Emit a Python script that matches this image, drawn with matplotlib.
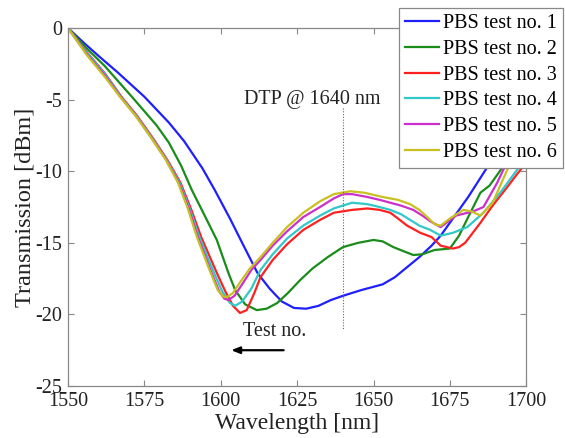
import matplotlib
matplotlib.use("Agg")
import matplotlib.pyplot as plt

# ---- data ----
wl1 = [1550, 1555, 1560, 1566, 1575, 1583, 1588, 1594, 1598, 1603, 1607, 1612, 1616, 1620, 1624, 1628,
       1632, 1636, 1640, 1646, 1653, 1657, 1661, 1665, 1669, 1672, 1676, 1681, 1687, 1693, 1700]
t1 = [0, -1.0, -1.95, -3.05, -4.8, -6.6, -7.9, -9.8, -11.3, -13.3, -15.0, -17.1, -18.2, -19.1, -19.55, -19.6,
      -19.4, -19.0, -18.7, -18.3, -17.9, -17.4, -16.7, -16.0, -15.2, -14.5, -13.3, -11.8, -9.8, -7.6, -5.0]

wl2 = [1550, 1556, 1562, 1570.9, 1579, 1583, 1587, 1590.5, 1594.5, 1598.7, 1602.5, 1604.7, 1608, 1611.8,
       1615, 1618.5, 1622, 1626, 1630, 1635, 1640, 1645, 1650, 1653, 1656.5, 1660, 1663, 1666, 1670, 1675,
       1678, 1681, 1685, 1688, 1692, 1696, 1700]
t2 = [0, -1.4, -2.65, -4.8, -6.8, -8.0, -9.6, -11.3, -13.0, -14.8, -17.1, -18.3, -19.3, -19.7,
      -19.6, -19.2, -18.5, -17.6, -16.8, -16.0, -15.3, -15.0, -14.8, -14.9, -15.3, -15.6, -15.85, -15.8, -15.5, -15.4,
      -14.5, -13.2, -11.5, -11.0, -9.8, -7.5, -5.5]

wl3 = [1550, 1556, 1562, 1567.5, 1572.5, 1577.5, 1582.5, 1586.8, 1590.2, 1593.6, 1598.5, 1601.5, 1604, 1606.3,
       1608.5, 1611, 1613, 1617, 1621.7, 1627, 1632.5, 1637, 1643, 1648, 1652, 1655.5, 1658, 1661, 1665.3,
       1669, 1672, 1676, 1678, 1680, 1685, 1689, 1693.8, 1697, 1700]
t3 = [0, -1.65, -3.15, -4.8, -6.1, -7.6, -9.2, -10.8, -12.6, -14.6, -17.0, -18.4, -19.4, -19.9,
      -19.7, -18.5, -17.4, -16.2, -15.1, -14.1, -13.4, -12.9, -12.7, -12.6, -12.7, -12.9, -13.3, -13.8, -14.3,
      -14.6, -15.2, -15.4, -15.3, -15.0, -13.6, -12.4, -11.1, -10.2, -9.4]

wl4 = [1550, 1556, 1562, 1567.3, 1572.3, 1577.3, 1582.3, 1586.5, 1589.8, 1593.0, 1597.6, 1600.5, 1603, 1604.7,
       1607, 1610, 1613, 1617, 1621.7, 1627, 1632.5, 1637, 1643, 1648, 1652, 1655.5, 1659, 1662, 1665,
       1668.6, 1672, 1676, 1680.7, 1686, 1691.5, 1697, 1700]
t4 = [0, -1.7, -3.2, -4.8, -6.1, -7.6, -9.2, -10.8, -12.6, -14.6, -17.0, -18.4, -19.2, -19.4,
      -19.1, -18.2, -16.9, -15.8, -14.7, -13.8, -13.1, -12.6, -12.2, -12.3, -12.5, -12.7, -13.0, -13.4, -13.8,
      -14.1, -14.5, -14.3, -13.9, -12.9, -11.5, -9.9, -9.0]

wl5 = [1550, 1556, 1562, 1567.1, 1572.1, 1577.1, 1582.1, 1586.2, 1589.5, 1592.5, 1596.8, 1599.5, 1601.2, 1602.5,
       1604.5, 1607, 1610, 1613, 1617, 1621.7, 1627, 1632.5, 1637, 1640, 1643, 1648, 1652, 1655.5, 1659,
       1663, 1666, 1668.6, 1672, 1677, 1682.7, 1686, 1690.5, 1692.5, 1700]
t5 = [0, -1.8, -3.3, -4.8, -6.1, -7.6, -9.2, -10.8, -12.6, -14.6, -17.0, -18.4, -18.9, -19.0,
      -18.7, -17.9, -16.9, -16.2, -15.2, -14.2, -13.2, -12.5, -11.9, -11.6, -11.6, -11.8, -12.0, -12.2, -12.4,
      -12.7, -13.1, -13.5, -13.9, -13.1, -12.8, -12.5, -10.8, -9.9, -7.0]

wl6 = [1550, 1556, 1562, 1567, 1572, 1577, 1582, 1586, 1589.2, 1592.2, 1596.5, 1599, 1600.8, 1602,
       1604, 1606.5, 1609.5, 1613, 1617, 1621.7, 1627, 1632.5, 1637, 1642.4, 1647, 1653, 1658, 1662, 1665,
       1667.6, 1670, 1672, 1675, 1679.4, 1682, 1685, 1689, 1693.8, 1700]
t6 = [0, -1.85, -3.4, -4.8, -6.1, -7.6, -9.2, -10.8, -12.6, -14.6, -17.0, -18.3, -18.75, -18.8,
      -18.5, -17.7, -16.8, -16.0, -15.0, -13.9, -12.9, -12.1, -11.6, -11.4, -11.5, -11.8, -12.0, -12.3, -12.7,
      -13.2, -13.7, -13.8, -13.3, -12.7, -12.8, -13.1, -12.2, -9.9, -7.0]

labels = ["PBS test no. 1", "PBS test no. 2", "PBS test no. 3",
          "PBS test no. 4", "PBS test no. 5", "PBS test no. 6"]
colors = ["#1f1fff", "#1a8c1a", "#ff2020", "#30c8c8", "#cc30cc", "#c8c020"]

x_ticks = [1550, 1575, 1600, 1625, 1650, 1675, 1700]
y_ticks = [0, -5, -10, -15, -20, -25]
dtp_wl = 1640

plt.rcParams['font.family'] = ['Liberation Serif', 'DejaVu Serif']

fig = plt.figure(figsize=(5.65, 4.38), dpi=100)
ax = fig.add_axes([0.1204, 0.1187, 0.811, 0.8173])

series = [(wl1, t1), (wl2, t2), (wl3, t3), (wl4, t4), (wl5, t5), (wl6, t6)]
for (w, t), lab, c in zip(series, labels, colors):
    ax.plot(w, t, color=c, lw=1.6, label=lab)

ax.plot([dtp_wl, dtp_wl], [-5.6, -21.0], color="#666666", lw=0.8, ls=(0, (1, 1.5)))
ax.text(1629.8, -5.0, "DTP @ 1640 nm", ha="center", va="center", fontsize=14.5, color="#222222")
ax.text(1617.8, -21.2, "Test no.", ha="center", va="center", fontsize=14.5, color="#222222")
ax.annotate("", xy=(1602.5, -22.5), xytext=(1621.5, -22.5),
            arrowprops=dict(arrowstyle="-|>,head_length=0.5,head_width=0.2", color="black", lw=1.6))

ax.set_xlim(1550, 1700)
ax.set_ylim(-25, 0)
ax.set_xticks(x_ticks)
ax.set_yticks(y_ticks)
ax.set_xticklabels([str(v) for v in x_ticks])
ax.set_yticklabels([str(v) for v in y_ticks])
ax.tick_params(direction="in", top=True, right=True, length=4, color="#888888",
               labelsize=14.5, labelcolor="#222222", pad=4)
for s in ax.spines.values():
    s.set_color("#888888")
    s.set_linewidth(0.9)

ax.set_xlabel("Wavelength [nm]", fontsize=17, color="#222222", labelpad=2)
ax.set_ylabel("Transmission [dBm]", fontsize=17.5, color="#222222", labelpad=0)

leg = ax.legend(loc="upper right", bbox_to_anchor=(563 / 565, 1 - 8 / 438),
                bbox_transform=fig.transFigure, fontsize=14.5, frameon=True, fancybox=False,
                framealpha=1, edgecolor="#888888", borderpad=0.3, labelspacing=0.33,
                handlelength=1.7, handletextpad=0.2, borderaxespad=0)
leg.get_frame().set_linewidth(0.9)

fig.savefig("out.png", dpi=100)
